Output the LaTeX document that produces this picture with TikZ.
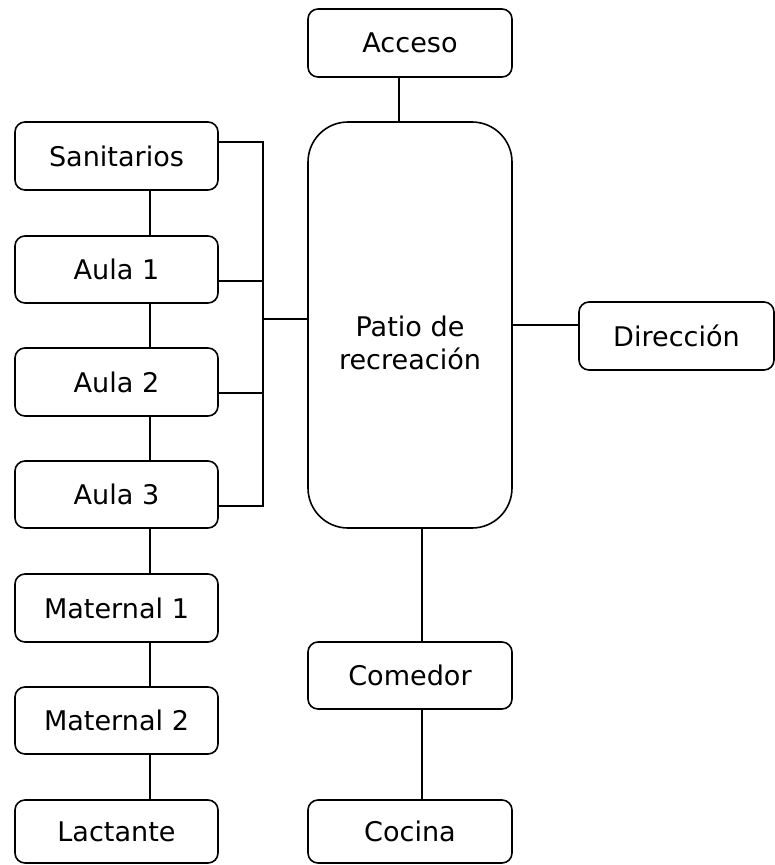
\documentclass[tikz,border=0pt]{standalone}
\usepackage{fontspec}
\setmainfont{DejaVu Sans}
\begin{document}
\begin{tikzpicture}[x=0.75pt,y=-0.75pt,
  box/.style={draw=black,line width=1.2pt,rounded corners=7.5pt,fill=white,
    minimum width=#1*0.75pt,inner sep=0pt,
    font=\fontsize{20.3pt}{24.75pt}\selectfont},
  link/.style={draw=black,line width=1.1pt},
  lbl/.style={inner sep=0pt,align=center,font=\fontsize{20.3pt}{24.75pt}\selectfont}]
\useasboundingbox (0,0) rectangle (775,865);
\fill[white] (0,0) rectangle (775,865);
% left column
\node[box=203,minimum height=51pt] (san) at (116.5,156) {Sanitarios};
\node[box=203,minimum height=50.25pt] (a1) at (116.5,269.5) {Aula 1};
\node[box=203,minimum height=51pt] (a2) at (116.5,382) {Aula 2};
\node[box=203,minimum height=50.25pt] (a3) at (116.5,494.5) {Aula 3};
\node[box=203,minimum height=51pt] (m1) at (116.5,608) {Maternal 1};
\node[box=203,minimum height=50.25pt] (m2) at (116.5,720.5) {Maternal 2};
\node[box=203,minimum height=47.25pt] (lac) at (116.5,831.5) {Lactante};
% centre column
\node[box=204,minimum height=51pt] (acc) at (410,43) {Acceso};
\node[box=204,minimum height=304.5pt,rounded corners=30pt] (patio) at (410,325) {};
\node[lbl] (patiotxt) at (410,343) {Patio de\\recreación};
\node[box=204,minimum height=50.25pt] (com) at (410,675.5) {Comedor};
\node[box=204,minimum height=47.25pt] (coc) at (410,831.5) {Cocina};
% right
\node[box=195,minimum height=51pt] (dir) at (676.5,336) {Dirección};
% coordinates
\coordinate (cl) at (150,0);
\coordinate (ca) at (399,0);
\coordinate (cc) at (422,0);
\coordinate (b1) at (263,142);
\coordinate (b2) at (263,281);
\coordinate (b3) at (263,393);
\coordinate (b4) at (263,506);
\coordinate (bp) at (263,319);
\coordinate (dp) at (0,325);
% connectors
\draw[link] (cl |- san.south) -- (cl |- a1.north);
\draw[link] (cl |- a1.south) -- (cl |- a2.north);
\draw[link] (cl |- a2.south) -- (cl |- a3.north);
\draw[link] (cl |- a3.south) -- (cl |- m1.north);
\draw[link] (cl |- m1.south) -- (cl |- m2.north);
\draw[link] (cl |- m2.south) -- (cl |- lac.north);
\draw[link] (b1 -| san.east) -- (b1) -- (b4) -- (b4 -| a3.east);
\draw[link] (b2 -| a1.east) -- (b2);
\draw[link] (b3 -| a2.east) -- (b3);
\draw[link] (bp) -- (bp -| patio.west);
\draw[link] (ca |- acc.south) -- (ca |- patio.north);
\draw[link] (dp -| patio.east) -- (dp -| dir.west);
\draw[link] (cc |- patio.south) -- (cc |- com.north);
\draw[link] (cc |- com.south) -- (cc |- coc.north);
\end{tikzpicture}
\end{document}
